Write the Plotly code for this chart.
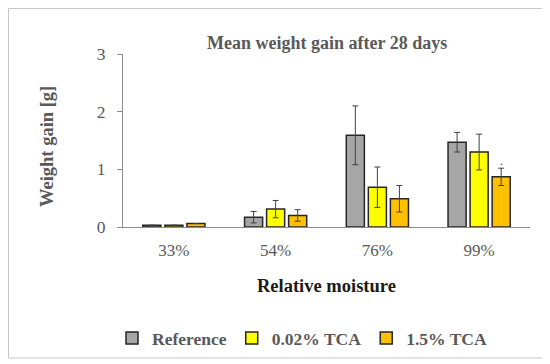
import plotly.graph_objects as go

categories = ["33%", "54%", "76%", "99%"]
series_names = ["Reference", "0.02% TCA", "1.5% TCA"]
reference_vals = [0.03, 0.17, 1.59, 1.47]
reference_err = [0.0, 0.10, 0.51, 0.17]
tca002_vals = [0.03, 0.31, 0.69, 1.30]
tca002_err = [0.0, 0.15, 0.35, 0.31]
tca15_vals = [0.06, 0.20, 0.49, 0.87]
tca15_err = [0.0, 0.10, 0.23, 0.15]
y_ticks = [0, 1, 2, 3]

colors = ["#a6a6a6", "#ffff00", "#ffc000"]
FONT = "Liberation Serif"
GRAY = "#595959"

# page body has an 8px default margin, so the figure is laid out 8px smaller
OFF = 8
W, H = 550 - OFF, 364 - OFF
L, T = 123 - OFF, 54 - OFF
PW, PH = 407, 173

fig = go.Figure()
for name, vals, errs, col in zip(series_names,
                                 [reference_vals, tca002_vals, tca15_vals],
                                 [reference_err, tca002_err, tca15_err], colors):
    fig.add_trace(go.Bar(
        name=name, x=categories, y=vals,
        marker=dict(color=col, line=dict(color="#262626", width=1.5)),
        error_y=dict(type="data", array=errs, visible=True, color="#404040",
                     thickness=1, width=3),
    ))

fig.update_layout(
    width=W, height=H,
    margin=dict(l=L, r=W - L - PW, t=T, b=H - T - PH, autoexpand=False),
    paper_bgcolor="white", plot_bgcolor="white",
    barmode="group", bargap=0.35, bargroupgap=0.18,
    font=dict(family=FONT, color=GRAY, size=16),
    showlegend=True,
    legend=dict(orientation="h", xref="container", yref="container",
                x=(302 - OFF) / W, xanchor="center", y=1 - (338 - OFF) / H, yanchor="middle",
                font=dict(family=FONT, size=17.5, color=GRAY, weight="bold"),
                itemwidth=30, traceorder="normal"),
    xaxis=dict(showline=True, linecolor="#8c8c8c", linewidth=1, ticks="",
               showgrid=False, tickfont=dict(size=17, color=GRAY),
               ticklabelstandoff=8),
    yaxis=dict(range=[0, 3], tickvals=y_ticks, showline=True, linecolor="#8c8c8c",
               linewidth=1, ticks="outside", ticklen=5, tickcolor="#8c8c8c",
               showgrid=False, zeroline=False, tickfont=dict(size=17.5, color=GRAY),
               ticklabelstandoff=8),
)

fig.add_annotation(text="<b>Mean weight gain after 28 days</b>", xref="paper", yref="paper",
                   x=0.5, y=(227 - 43) / PH, xanchor="center", yanchor="middle",
                   showarrow=False, font=dict(family=FONT, size=18, color=GRAY))
fig.add_annotation(text="<b>Weight gain [g]</b>", xref="paper", yref="paper",
                   x=(47 - 123) / PW, y=(227 - 147) / PH, textangle=-90,
                   xanchor="center", yanchor="middle", showarrow=False,
                   font=dict(family=FONT, size=18.5, color=GRAY))
fig.add_annotation(text="<b>Relative moisture</b>", xref="paper", yref="paper",
                   x=0.5, y=(227 - 286) / PH, xanchor="center", yanchor="middle",
                   showarrow=False, font=dict(family=FONT, size=18.5, color="#1a1a1a"))
fig.add_annotation(text=".", x=categories[3], y=tca15_vals[3] + tca15_err[3] + 0.13,
                   xshift=22, showarrow=False, yanchor="middle",
                   font=dict(family=FONT, size=12, color="#404040"))

# outer frame (clamped to the figure edge at top/left)
fig.add_shape(type="rect", xref="paper", yref="paper",
              x0=(OFF + 0.5 - 123) / PW, x1=(544 - 123) / PW,
              y0=(227 - 358) / PH, y1=(227 - OFF - 0.5) / PH,
              line=dict(color="#c8c8c8", width=1), fillcolor="rgba(0,0,0,0)", layer="below")

fig.write_html("out.html")
